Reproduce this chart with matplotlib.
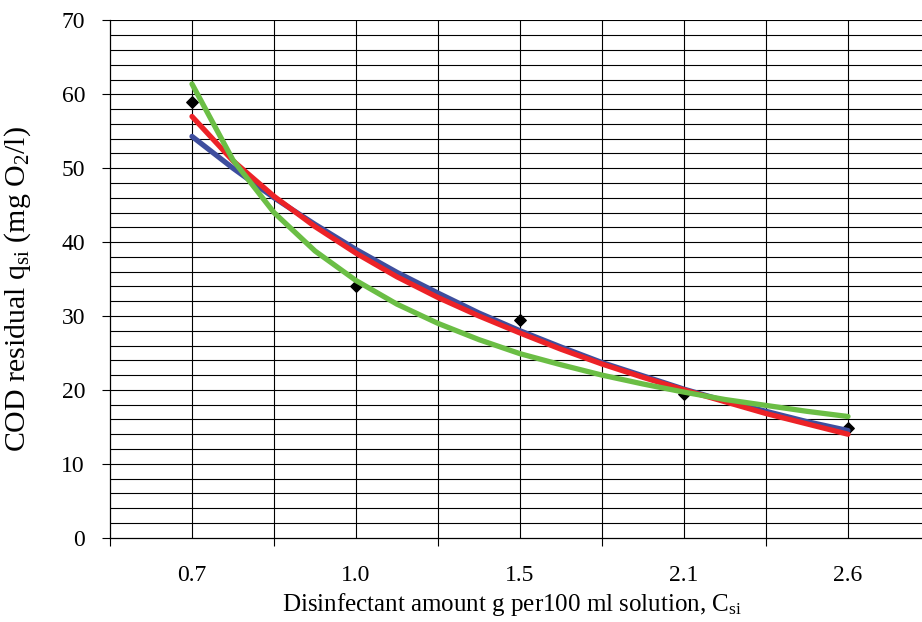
import numpy as np
import matplotlib
matplotlib.use("Agg")
import matplotlib.pyplot as plt
from matplotlib.ticker import MultipleLocator, FixedLocator


# Data
categories = ["0.7", "1.0", "1.5", "2.1", "2.6"]
cod = [58.9, 34.1, 29.5, 19.5, 14.9]            # mg O2/l, measured points

# trend lines, read along the category axis (1 = first category)
pos = [1, 1.25, 1.5, 1.75, 2, 2.25, 2.5, 2.75, 3, 3.25, 3.5, 3.75, 4, 4.25, 4.5, 4.75, 5]
blue_line  = [54.3, 50.0, 46.0, 42.4, 39.0, 35.9, 33.1, 30.4, 28.0, 25.8, 23.7, 21.9, 20.1, 18.5, 17.1, 15.7, 14.5]
red_line   = [57.0, 51.0, 46.2, 42.1, 38.5, 35.3, 32.5, 30.0, 27.7, 25.5, 23.5, 21.7, 20.0, 18.4, 16.8, 15.4, 14.0]
green_line = [61.4, 51.1, 44.0, 38.8, 34.8, 31.6, 29.0, 26.8, 24.9, 23.4, 22.0, 20.8, 19.7, 18.7, 17.9, 17.1, 16.4]


# Fonts
plt.rcParams["font.family"] = ["Liberation Serif", "DejaVu Serif"]
plt.rcParams["mathtext.fontset"] = "custom"
plt.rcParams["mathtext.rm"] = "Liberation Serif"
plt.rcParams["mathtext.it"] = "Liberation Serif:italic"


# Plotting
fig = plt.figure(figsize=(9.22, 6.22), dpi=100)
ax = fig.add_axes([110 / 922, 84.3 / 622, 820 / 922, 517.3 / 622])

x = np.arange(1, len(categories) + 1)

ax.scatter(x, cod, marker="D", s=34, color="black", zorder=3)
ax.plot(pos, blue_line, color="#3E4E9E", lw=3.8, zorder=4, solid_capstyle="round")
ax.plot(pos, red_line, color="#EC2227", lw=3.8, zorder=5, solid_capstyle="round")
ax.plot(pos, green_line, color="#6BBE45", lw=3.8, zorder=6, solid_capstyle="round")

ax.set_xlim(0.5, 5.5)
ax.set_ylim(0, 70)

# grid: every 2 units on y, every half category on x
ax.yaxis.set_major_locator(MultipleLocator(10))
ax.yaxis.set_minor_locator(MultipleLocator(2))
ax.xaxis.set_major_locator(FixedLocator(x))
ax.xaxis.set_minor_locator(FixedLocator(np.arange(0.5, 5.6, 1.0)))
ax.set_xticklabels(categories)

for v in np.arange(2, 71, 2):
    ax.axhline(v, color="black", lw=0.8, zorder=1)
for v in np.arange(1.0, 5.6, 0.5):
    ax.axvline(v, color="black", lw=0.8, zorder=1)

ax.tick_params(axis="x", which="major", length=0, pad=20, labelsize=17)
ax.tick_params(axis="x", which="minor", length=6, width=0.8, direction="out")
ax.tick_params(axis="y", which="major", length=6, width=0.8, direction="out", labelsize=17, pad=12)
ax.tick_params(axis="y", which="minor", length=0)

for s in ["top", "right"]:
    ax.spines[s].set_visible(False)
ax.spines["left"].set_linewidth(0.9)
ax.spines["bottom"].set_linewidth(0.9)

ax.set_xlabel(r"Disinfectant amount g per100 ml solution, C$_{\mathrm{si}}$", fontsize=18)
ax.xaxis.set_label_coords(0.49, -0.104)
ax.set_ylabel(r"COD residual q$_{\mathrm{si}}$ (mg O$_{\mathrm{2}}$/l)", fontsize=21.5)
ax.yaxis.set_label_coords(-0.094, 0.48)

fig.savefig("out.png", dpi=100)
